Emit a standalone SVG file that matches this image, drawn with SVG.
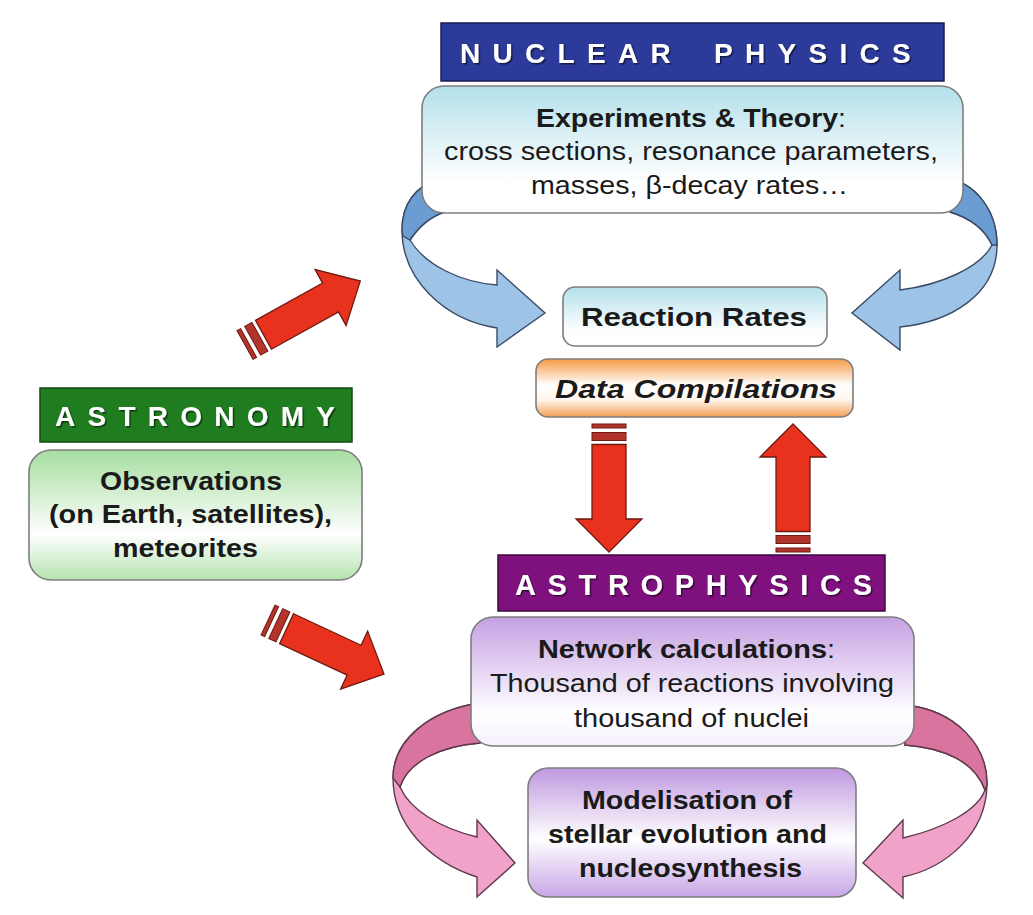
<svg xmlns="http://www.w3.org/2000/svg" xmlns:xlink="http://www.w3.org/1999/xlink" width="1033" height="915" viewBox="0 0 1033 915">
<style>
.box{stroke:#7d7d7d;stroke-width:1.6}
.t{font-family:"Liberation Sans",Arial,sans-serif;fill:#1a1a1a;font-size:25px}
.b{font-weight:bold}
.ban{font-family:"Liberation Sans",Arial,sans-serif;fill:#ffffff;font-weight:bold;filter:url(#sh)}
.red{fill:#e8321e;stroke:#6e1a12;stroke-width:1.3}
.stripe{fill:#b3342a;stroke:#6e1a12;stroke-width:1}
.blue{fill:#9dc3e7;stroke:#3b4a66;stroke-width:1.4}
.blueD{fill:#6c9dd2;stroke:#3b4a66;stroke-width:1.4}
.pink{fill:#f0a2c9;stroke:#5e3a4c;stroke-width:1.4}
.pinkD{fill:#d9749f;stroke:#5e3a4c;stroke-width:1.4}
</style>
<defs>
<filter id="sh" x="-5%" y="-20%" width="110%" height="150%">
<feDropShadow dx="1.5" dy="1.5" stdDeviation="0.6" flood-color="#000" flood-opacity="0.55"/>
</filter>
<linearGradient id="gCyan" x1="0" y1="0" x2="0" y2="1">
<stop offset="0" stop-color="#b3e0ea"/><stop offset="0.75" stop-color="#ffffff"/><stop offset="1" stop-color="#ffffff"/>
</linearGradient>
<linearGradient id="gOrange" x1="0" y1="0" x2="0" y2="1">
<stop offset="0" stop-color="#f59a45"/><stop offset="0.45" stop-color="#ffffff"/><stop offset="0.7" stop-color="#fff6ee"/><stop offset="1" stop-color="#f4a055"/>
</linearGradient>
<linearGradient id="gGreen" x1="0" y1="0" x2="0" y2="1">
<stop offset="0" stop-color="#a6dea0"/><stop offset="0.65" stop-color="#ffffff"/><stop offset="1" stop-color="#b4e3ae"/>
</linearGradient>
<linearGradient id="gPurple" x1="0" y1="0" x2="0" y2="1">
<stop offset="0" stop-color="#c5a0e2"/><stop offset="0.75" stop-color="#ffffff"/><stop offset="1" stop-color="#f6f0fb"/>
</linearGradient>
<linearGradient id="gPurple2" x1="0" y1="0" x2="0" y2="1">
<stop offset="0" stop-color="#bf98e0"/><stop offset="0.55" stop-color="#ffffff"/><stop offset="1" stop-color="#c7a6e6"/>
</linearGradient>
<g id="redArrow">
<rect class="stripe" x="0" y="-17" width="4" height="34"/>
<rect class="stripe" x="8.5" y="-17" width="8" height="34"/>
<polygon class="red" points="20.5,-17 95,-17 95,-33 128,0 95,33 95,17 20.5,17"/>
</g>
</defs>
<rect width="1033" height="915" fill="#ffffff"/>

<g id="connectors">
<path class="blue" d="M 440,180 C 415,185 402,205 402,230 C 402,280 445,320 497,328 L 497,347 L 545,313 L 497,270 L 497,285 C 460,282 425,265 410,240 C 420,225 432,216 445,212 Z"/>
<path class="blueD" d="M 440,180 C 415,185 402,205 402,230 L 403,236 L 410,240 C 420,225 432,216 445,212 Z"/>
<path class="blue" d="M 945,178 C 975,182 997,210 997,245 C 997,295 950,322 900,327 L 900,350 L 852,313 L 900,270 L 900,290 C 940,285 980,268 992,245 C 985,230 970,218 950,212 Z"/>
<path class="blueD" d="M 945,178 C 975,182 997,210 997,245 L 992,245 C 985,230 970,218 950,212 Z"/>
<path class="pink" d="M 480,703 C 430,710 393,740 393,778 C 393,825 430,862 477,877 L 477,897 L 515,863 L 477,820 L 477,837 C 440,828 410,810 400,787 C 408,762 440,746 480,743 Z"/>
<path class="pinkD" d="M 480,703 C 430,710 393,740 393,778 L 400,787 C 408,762 440,746 480,743 Z"/>
<path class="pink" d="M 905,705 C 955,710 988,745 987,785 C 986,835 945,868 903,877 L 903,898 L 863,863 L 903,820 L 903,838 C 945,828 978,810 985,790 C 975,762 945,748 905,745 Z"/>
<path class="pinkD" d="M 905,705 C 955,710 988,745 987,785 L 985,790 C 975,762 945,748 905,745 Z"/>
<use xlink:href="#redArrow" transform="translate(609,424) rotate(90)"/>
<use xlink:href="#redArrow" transform="translate(793,552) rotate(-90)"/>
<use xlink:href="#redArrow" transform="translate(245,345) rotate(-29) scale(1.03,0.97)"/>
<use xlink:href="#redArrow" transform="translate(268,620) rotate(25) scale(1.0,0.97)"/>
</g>

<g id="nuclear-physics">
<rect x="441" y="23" width="503" height="58" fill="#2c3a99" stroke="#1a1f55" stroke-width="1.5"/>
<text class="ban" x="460" y="63" font-size="28" letter-spacing="12.3" word-spacing="11">NUCLEAR PHYSICS</text>
</g>

<g id="experiments">
<rect class="box" x="422" y="86" width="541" height="127" rx="22" fill="url(#gCyan)"/>
<text class="t" x="536" y="127" font-size="24" textLength="310" lengthAdjust="spacingAndGlyphs"><tspan class="b">Experiments &amp; Theory</tspan>:</text>
<text class="t" x="444" y="160" font-size="24" textLength="494" lengthAdjust="spacingAndGlyphs">cross sections, resonance parameters,</text>
<text class="t" x="531" y="194" font-size="24" textLength="317" lengthAdjust="spacingAndGlyphs">masses, β-decay rates…</text>
</g>

<g id="reaction-rates">
<rect class="box" x="563" y="287" width="264" height="59" rx="12" fill="url(#gCyan)"/>
<text class="t b" x="581" y="326" font-size="27" textLength="226" lengthAdjust="spacingAndGlyphs">Reaction Rates</text>
</g>

<g id="data-compilations">
<rect class="box" x="536" y="359" width="317" height="58" rx="12" fill="url(#gOrange)" stroke="#b86a2a"/>
<text class="t b" x="555" y="398" font-size="26" font-style="italic" textLength="282" lengthAdjust="spacingAndGlyphs">Data Compilations</text>
</g>

<g id="astronomy">
<rect x="40" y="388" width="312" height="54" fill="#1f7d1f" stroke="#124a12" stroke-width="1.5"/>
<text class="ban" x="55" y="426" font-size="28" textLength="280" lengthAdjust="spacing">ASTRONOMY</text>
</g>

<g id="observations">
<rect class="box" x="29" y="450" width="333" height="130" rx="22" fill="url(#gGreen)"/>
<text class="t b" x="100" y="490" textLength="182" lengthAdjust="spacingAndGlyphs">Observations</text>
<text class="t b" x="49" y="523" textLength="283" lengthAdjust="spacingAndGlyphs">(on Earth, satellites),</text>
<text class="t b" x="113" y="557" textLength="145" lengthAdjust="spacingAndGlyphs">meteorites</text>
</g>

<g id="astrophysics">
<rect x="498" y="555" width="387" height="56" fill="#7f117f" stroke="#3c083c" stroke-width="1.5"/>
<text class="ban" x="515" y="595" font-size="29" textLength="357" lengthAdjust="spacing">ASTROPHYSICS</text>
</g>

<g id="network">
<rect class="box" x="471" y="617" width="443" height="129" rx="22" fill="url(#gPurple)"/>
<text class="t" x="538" y="658" textLength="297" lengthAdjust="spacingAndGlyphs"><tspan class="b">Network calculations</tspan>:</text>
<text class="t" x="490" y="692" textLength="404" lengthAdjust="spacingAndGlyphs">Thousand of reactions involving</text>
<text class="t" x="574" y="727" textLength="235" lengthAdjust="spacingAndGlyphs">thousand of nuclei</text>
</g>

<g id="modelisation">
<rect class="box" x="528" y="768" width="328" height="129" rx="20" fill="url(#gPurple2)"/>
<text class="t b" x="582" y="809" textLength="210" lengthAdjust="spacingAndGlyphs">Modelisation of</text>
<text class="t b" x="548" y="843" textLength="279" lengthAdjust="spacingAndGlyphs">stellar evolution and</text>
<text class="t b" x="579" y="877" textLength="223" lengthAdjust="spacingAndGlyphs">nucleosynthesis</text>
</g>
</svg>
